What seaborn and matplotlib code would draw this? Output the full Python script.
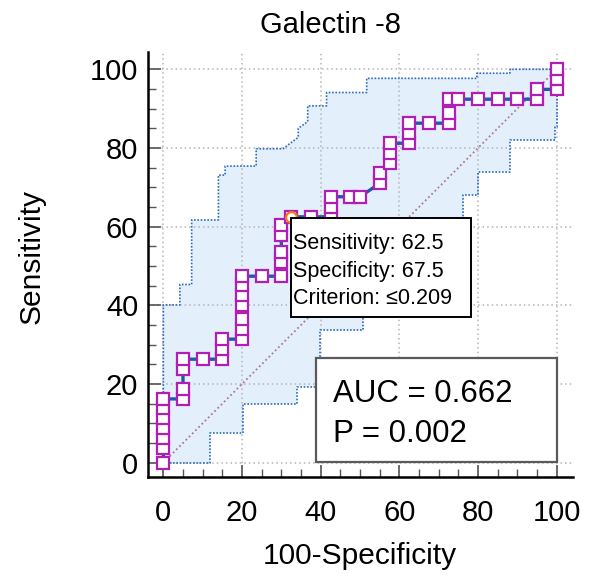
import matplotlib
matplotlib.use("Agg")
import matplotlib.pyplot as plt
import seaborn as sns
import pandas as pd
from matplotlib.patches import Rectangle

# ---------------- data ----------------
title = "Galectin -8"
x_label = "100-Specificity"
y_label = "Sensitivity"

# ROC points (100-Specificity, Sensitivity)
fpr = [0, 0, 0, 0, 0, 0, 0,
       5, 5, 5, 5,
       10,
       15, 15, 15,
       20, 20, 20, 20, 20, 20, 20,
       25,
       30, 30, 30, 30, 30,
       32.5,
       37.5,
       42.5, 42.5, 42.5,
       47.5, 50,
       55, 55,
       57.5, 57.5, 57.5,
       62.5, 62.5, 62.5,
       67.5,
       72.5, 72.5, 72.5,
       75, 80, 85, 90,
       95, 95,
       100, 100, 100]
sens = [0, 3.7, 6.2, 8.7, 11.3, 13.8, 16.2,
        16.2, 18.7, 23.7, 26.3,
        26.3,
        26.3, 28.8, 31.4,
        31.4, 33.9, 36.5, 40.1, 42.6, 45.2, 47.4,
        47.4,
        47.4, 50.9, 53.5, 57.9, 60.4,
        62.5,
        62.5,
        62.5, 65.1, 67.6,
        67.6, 67.6,
        71.0, 73.6,
        76.1, 78.7, 81.2,
        81.2, 83.7, 86.3,
        86.3,
        86.3, 88.8, 92.4,
        92.4, 92.4, 92.4, 92.4,
        92.4, 94.9,
        94.9, 97.5, 100]

# confidence band boundaries
upper_x = [0, 0, 4.2, 4.2, 7.2, 7.2, 14.0, 14.0, 15.7, 15.7, 23.6, 23.6, 30.4,
           34.3, 34.3, 36.7, 36.7, 41.5, 41.5, 51.7, 51.7, 79.7, 79.7, 88.1, 88.1, 100]
upper_y = [0, 40.1, 40.1, 45.3, 45.3, 61.7, 61.7, 73.1, 73.1, 75.4, 75.4, 79.8, 79.8,
           82.7, 85.0, 86.7, 90.7, 90.7, 94.1, 94.1, 97.7, 97.7, 99.0, 99.0, 100, 100]
lower_x = [0, 11.9, 11.9, 20.3, 20.3, 33.9, 33.9, 39.8, 39.8, 50.8, 50.8, 62.0, 62.0,
           76.3, 76.3, 80.1, 80.1, 88.1, 88.1, 99.6, 99.6, 100, 100]
lower_y = [0, 0, 7.6, 7.6, 14.9, 14.9, 19.3, 19.3, 33.7, 33.7, 45.0, 45.0, 52.0,
           52.0, 68.0, 68.0, 74.0, 74.0, 82.0, 82.0, 85.4, 85.4, 100]

# criterion point
crit_x = 32.5
crit_y = 62.5
crit_lines = ["Sensitivity: 62.5", "Specificity: 67.5", "Criterion: \u22640.209"]
stats_lines = ["AUC = 0.662", "P = 0.002"]

# ---------------- style ----------------
sns.set_style("ticks")
plt.rcParams["font.family"] = ["Liberation Sans", "DejaVu Sans"]
plt.rcParams["text.color"] = "black"
plt.rcParams["xtick.labelcolor"] = "black"
plt.rcParams["ytick.labelcolor"] = "black"

fig = plt.figure(figsize=(5.92, 5.83), dpi=100)
W, H = 592, 583
ax = fig.add_axes([148 / W, 1 - 476.8 / H, 425.2 / W, 425.2 / H])
ax.set_xlim(-3.9, 104.2)
ax.set_ylim(-3.6, 104.5)

# band
band_fill = "#e4effc"
band_edge = "#2c6cbd"
poly_x = upper_x + lower_x[::-1]
poly_y = upper_y + lower_y[::-1]
ax.fill(poly_x, poly_y, color=band_fill, zorder=1, lw=0)
ax.plot(upper_x, upper_y, ls=(0, (1, 1)), color=band_edge, lw=1.2, zorder=2)
ax.plot(lower_x, lower_y, ls=(0, (1, 1)), color=band_edge, lw=1.2, zorder=2)

# diagonal reference
ax.plot([0, 100], [0, 100], ls=(0, (1, 1.5)), color="#b07894", lw=1.3, zorder=2)

# ROC curve
roc = pd.DataFrame({"fpr": fpr, "sens": sens})
sns.lineplot(data=roc, x="fpr", y="sens", ax=ax, sort=False, estimator=None,
             color="#1f5ca8", lw=2.4, marker="s", markersize=8.4,
             markerfacecolor="white", markeredgecolor="#b21db6",
             markeredgewidth=1.6, zorder=3)

# criterion marker
crit = pd.DataFrame({"fpr": [crit_x], "sens": [crit_y]})
sns.scatterplot(data=crit, x="fpr", y="sens", ax=ax, marker="o", s=60,
                facecolor="white", edgecolor="#f07c1c", linewidth=1.6, zorder=4)

# criterion box
ax.add_patch(Rectangle((crit_x, crit_y - 25.5), 45.7, 25.1, facecolor="white",
                       edgecolor="black", lw=1.4, zorder=6))
for i, t in enumerate(crit_lines):
    ax.text(crit_x + 0.4, crit_y - 8.3 - 6.95 * i, t, fontsize=15.5, va="baseline",
            ha="left", zorder=7, color="black")

# AUC box
ax.add_patch(Rectangle((38.8, 0.25), 61.2, 26.25, facecolor="white",
                       edgecolor="#5a5a5a", lw=1.6, zorder=6))
for i, t in enumerate(stats_lines):
    ax.text(43.2, 15.5 - 10.2 * i, t, fontsize=22.5, va="baseline", ha="left",
            zorder=7, color="black")

# axes decorations
ax.set_xticks(range(0, 101, 20))
ax.set_yticks(range(0, 101, 20))
ax.set_xticks(range(0, 101, 5), minor=True)
ax.set_yticks(range(0, 101, 5), minor=True)
ax.tick_params(which="major", direction="in", length=9, width=1.2,
               color="#555555", labelsize=21, labelcolor="black")
ax.tick_params(which="minor", direction="in", length=5.8, width=1.0,
               color="#555555")
ax.tick_params(axis="x", which="major", pad=16)
ax.tick_params(axis="y", which="major", pad=7)
ax.set_axisbelow("line")
ax.grid(True, which="major", ls=(0, (1, 2)), color="#b4b4b4", lw=1.1)
ax.set_xlabel("")
ax.set_ylabel("")
for s in ["top", "right"]:
    ax.spines[s].set_visible(False)
for s in ["left", "bottom"]:
    ax.spines[s].set_linewidth(1.8)
    ax.spines[s].set_color("black")

fig.text(330 / W, 1 - 33.3 / H, title, ha="center", va="baseline", fontsize=21,
         color="black")
fig.text(360 / W, 1 - 564 / H, x_label, ha="center", va="baseline", fontsize=21.5,
         color="black")
fig.text(40 / W, 1 - 256 / H, y_label, ha="center", va="baseline", fontsize=21.5,
         rotation=90, rotation_mode="anchor", color="black")

fig.savefig("out.png", dpi=100)
